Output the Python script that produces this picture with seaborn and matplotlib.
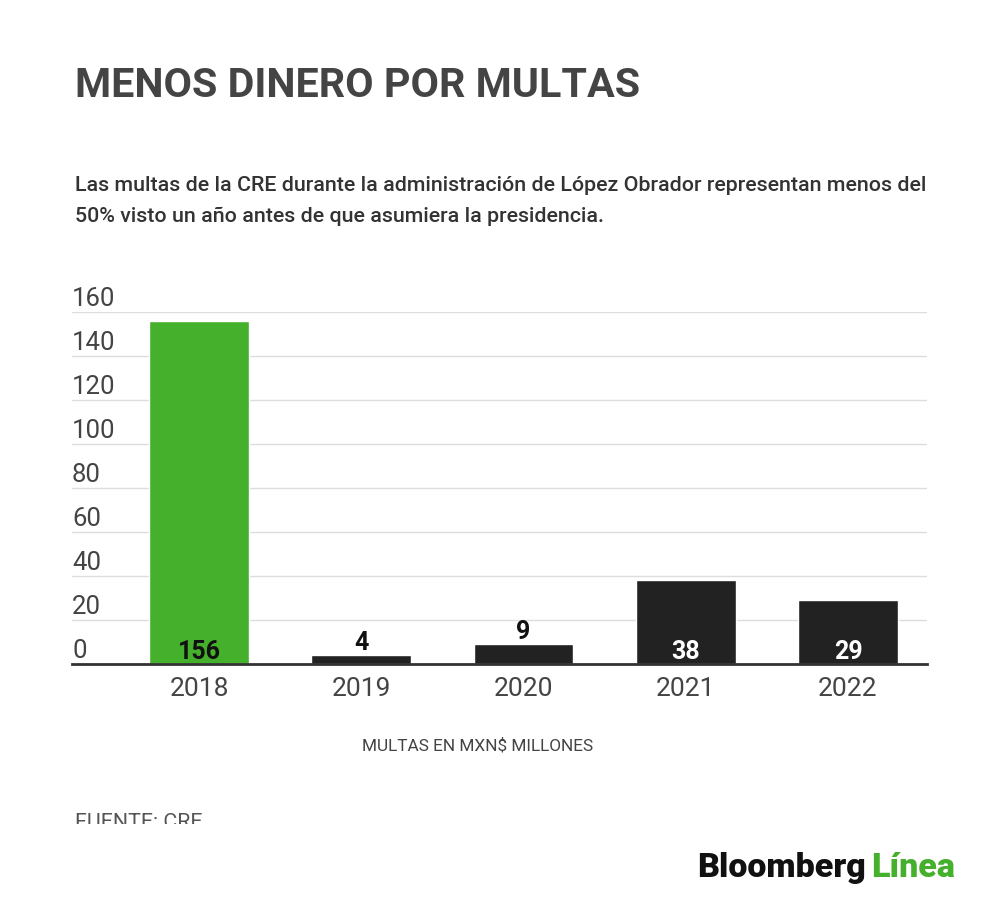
import matplotlib
matplotlib.use("Agg")
import matplotlib.pyplot as plt
import seaborn as sns
import pandas as pd
from matplotlib.patches import Rectangle

years = ["2018", "2019", "2020", "2021", "2022"]
multas = [156, 4, 9, 38, 29]
bar_colors = ["#45b02c", "#222222", "#222222", "#222222", "#222222"]
label_inside = [True, False, False, True, True]
label_colors = ["#111111", "#111111", "#111111", "white", "white"]
yticks = [0, 20, 40, 60, 80, 100, 120, 140, 160]

title = "MENOS DINERO POR MULTAS"
subtitle_1 = "Las multas de la CRE durante la administración de López Obrador representan menos del"
subtitle_2 = "50% visto un año antes de que asumiera la presidencia."
xlabel = "MULTAS EN MXN$ MILLONES"
source = "FUENTE: CRE"

df = pd.DataFrame({"year": years, "multas": multas})

sns.set_style("white")
plt.rcParams['font.family'] = ['Roboto', 'DejaVu Sans']

fig = plt.figure(figsize=(10, 9.1), dpi=100)
ax = fig.add_axes([0.072, 0.2703, 0.855, 0.3868])

sns.barplot(data=df, x="year", y="multas", hue="year", palette=bar_colors,
            width=0.616, legend=False, ax=ax, saturation=1)

ax.set_ylim(0, 160)
ax.set_xlim(-0.783, 4.487)
ax.set_yticks(yticks)
ax.yaxis.grid(True, color="#dddddd", linewidth=1)
ax.set_axisbelow(True)
ax.tick_params(axis="y", length=0, labelleft=False)
ax.tick_params(axis="x", length=0, pad=9, labelsize=19, labelcolor="#444444")
for s in ["top", "right", "left"]:
    ax.spines[s].set_visible(False)
ax.spines["bottom"].set_color("#333333")
ax.spines["bottom"].set_linewidth(2)
ax.set_xlabel("")
ax.set_ylabel("")

# y tick labels sit above the gridlines, left aligned
for v in yticks:
    ax.text(0, v + 2.7, str(v), transform=ax.get_yaxis_transform(),
            ha="left", va="baseline", fontsize=18.5, color="#444444")

# value labels
for i, v in enumerate(multas):
    y = 2.3 if label_inside[i] else v + 2.2
    ax.text(i, y, str(v), ha="center", va="baseline", fontsize=18,
            fontweight="bold", color=label_colors[i])

fig.text(0.075, 0.8929, title, fontsize=29.7, fontweight="bold", color="#444444",
         ha="left", va="baseline")
fig.text(0.075, 0.7896, subtitle_1, fontsize=15.4, fontweight="medium", color="#333333",
         ha="left", va="baseline")
fig.text(0.075, 0.7555, subtitle_2, fontsize=15.4, fontweight="medium", color="#333333",
         ha="left", va="baseline")
fig.text(0.478, 0.181, xlabel, fontsize=12.4, color="#444444", ha="center", va="center")

# source line is cut off at the bottom in the original
fig.text(0.075, 0.0901, source, fontsize=15.4, color="#555555", ha="left", va="baseline")
fig.patches.append(Rectangle((0.05, 0.07), 0.25, 0.0245, transform=fig.transFigure,
                             facecolor="white", edgecolor="none", zorder=5))

t2 = fig.text(0.955, 0.0363, "Línea", fontsize=24.5, fontweight="heavy", color="#45b02c",
              ha="right", va="baseline", zorder=6)
plt.annotate("Bloomberg", xy=(0, 0), xycoords=t2, xytext=(-4, 0),
             textcoords="offset points", ha="right", va="bottom",
             fontsize=24.5, fontweight="heavy", color="#111111", zorder=6)

fig.savefig("out.png", dpi=100, facecolor="white")
